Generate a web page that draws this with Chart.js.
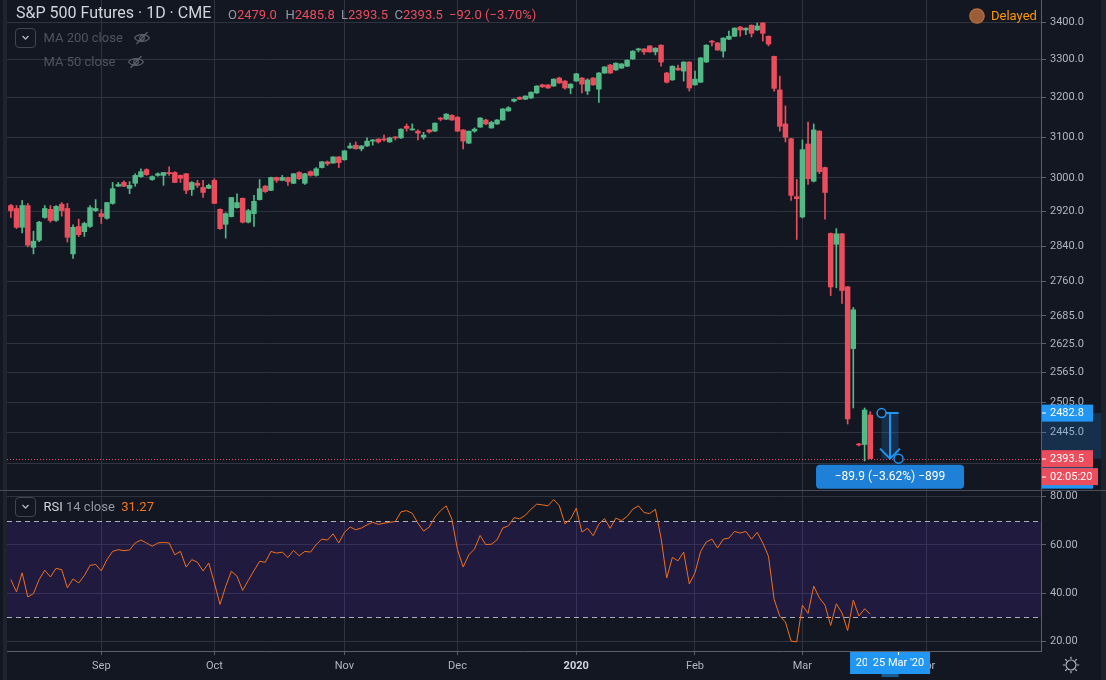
<!DOCTYPE html>
<html>
<head>
<meta charset="utf-8">
<title>S&amp;P 500 Futures · 1D · CME</title>
<script src="https://cdn.jsdelivr.net/npm/chart.js@4.4.1/dist/chart.umd.min.js"></script>
<style>
  html, body { margin: 0; padding: 0; background: #131722; }
  body { position: relative; width: 1106px; height: 680px; overflow: hidden;
         font-family: Roboto, "Noto Sans", sans-serif; color: #d1d4dc; }
  canvas { position: absolute; left: 0; }
  #priceChart { top: 0; }
  #rsiChart { top: 481px; }
  .txt { position: absolute; white-space: nowrap; line-height: 20px; height: 20px; }
  .k { color: #9598a1; }
  .v { color: #eb4d5c; }
  .chev { position: absolute; left: 15px; width: 19px; height: 18px; border: 1px solid #434651; border-radius: 4px; }
  .chev svg { position: absolute; left: 4px; top: 4px; }
  .ico { position: absolute; }
  .sep { position: absolute; left: 0; width: 1106px; height: 1px; background: #4a4e59; }
</style>
</head>
<body>
<canvas id="priceChart" width="1106" height="491"></canvas>
<canvas id="rsiChart" width="1106" height="199"></canvas>

<div style="position:absolute;left:3px;top:0;width:4px;height:680px;background:#1f232e"></div>
<div style="position:absolute;left:1101px;top:0;width:5px;height:680px;background:#1e222d"></div>
<div class="sep" style="top:490px"></div>

<!-- legend, price pane -->
<div class="txt" style="left:16px;top:3px;font-size:16px;color:#d1d4dc">S&amp;P 500 Futures · 1D · CME</div>
<div class="txt" style="left:228px;top:5px;font-size:13px"><span class="k">O</span><span class="v">2479.0</span></div>
<div class="txt" style="left:285.5px;top:5px;font-size:13px"><span class="k">H</span><span class="v">2485.8</span></div>
<div class="txt" style="left:341px;top:5px;font-size:13px"><span class="k">L</span><span class="v">2393.5</span></div>
<div class="txt" style="left:394.5px;top:5px;font-size:13px"><span class="k">C</span><span class="v">2393.5</span></div>
<div class="txt" style="left:449px;top:5px;font-size:13px"><span class="v">−92.0 (−3.70%)</span></div>

<div class="chev" style="top:28px"><svg width="11" height="10" viewBox="0 0 11 10"><path d="M2.5 3 L5.5 6 L8.5 3" fill="none" stroke="#b2b5be" stroke-width="1.3"/></svg></div>
<div class="txt" style="left:43.5px;top:28px;font-size:13px;color:#50535e">MA 200 close</div>
<svg class="ico" style="left:133px;top:31px" width="18" height="14" viewBox="0 0 18 14"><path d="M1.5 7 C4.5 2.5 13.5 2.5 16.5 7 C13.5 11.5 4.5 11.5 1.5 7 Z" fill="none" stroke="#5d606b" stroke-width="1.2"/><circle cx="9" cy="7" r="2.3" fill="none" stroke="#5d606b" stroke-width="1.2"/><path d="M3.5 13 L14.5 1" stroke="#5d606b" stroke-width="1.2"/></svg>
<div class="txt" style="left:43.5px;top:52px;font-size:13px;color:#50535e">MA 50 close</div>
<svg class="ico" style="left:126.5px;top:55px" width="18" height="14" viewBox="0 0 18 14"><path d="M1.5 7 C4.5 2.5 13.5 2.5 16.5 7 C13.5 11.5 4.5 11.5 1.5 7 Z" fill="none" stroke="#5d606b" stroke-width="1.2"/><circle cx="9" cy="7" r="2.3" fill="none" stroke="#5d606b" stroke-width="1.2"/><path d="M3.5 13 L14.5 1" stroke="#5d606b" stroke-width="1.2"/></svg>

<svg class="ico" style="left:968px;top:7px" width="18" height="18" viewBox="0 0 18 18"><circle cx="9" cy="9" r="7.2" fill="#9a5d37" stroke="#b8703f" stroke-width="1.2"/></svg>
<div class="txt" style="left:991px;top:5.5px;font-size:13px;color:#ff9800">Delayed</div>

<!-- legend, RSI pane -->
<div class="chev" style="top:497px"><svg width="11" height="10" viewBox="0 0 11 10"><path d="M2.5 3 L5.5 6 L8.5 3" fill="none" stroke="#b2b5be" stroke-width="1.3"/></svg></div>
<div class="txt" style="left:43.5px;top:496.5px;font-size:13px"><span style="color:#d1d4dc">RSI</span> <span style="color:#9598a1">14 close</span>&nbsp; <span style="color:#f5761a">31.27</span></div>

<svg class="ico" style="left:1061px;top:655px" width="20" height="20" viewBox="0 0 20 20" fill="none" stroke="#b2b5be" stroke-width="1.2">
  <circle cx="10" cy="10" r="5"/>
  <path d="M10 4 V1.8 M10 16 V18.2 M4 10 H1.8 M16 10 H18.2 M14.24 5.76 L15.8 4.2 M5.76 14.24 L4.2 15.8 M5.76 5.76 L4.2 4.2 M14.24 14.24 L15.8 15.8"/>
</svg>

<script>
// daily candles, 9 Aug 2019 .. 18 Mar 2020 (index 0 .. 152)
const opens = [2934,2927,2883,2934,2837,2853,2906,2925,2899,2937,
  2927,2822,2885,2873,2885,2922,2915,2904,2939,2980,
  2989,2975,2987,3003,3020,2996,3006,3006,3013,3013,
  3006,3010,2972,2987,2977,2975,2994,2925,2890,2908,
  2929,2951,2895,2915,2948,2980,2970,3001,2994,3001,
  2987,3013,2987,3015,3006,3025,3039,3036,3051,3044,
  3073,3080,3071,3078,3090,3095,3095,3088,3100,3098,
  3127,3118,3115,3100,3118,3115,3148,3145,3155,3150,
  3118,3085,3115,3125,3143,3123,3133,3143,3166,3191,
  3201,3196,3199,3212,3233,3233,3230,3251,3243,3225,
  3243,3251,3217,3251,3222,3264,3285,3272,3277,3282,
  3301,3325,3328,3336,3320,3338,3264,3246,3277,3269,
  3293,3233,3240,3293,3349,3344,3322,3354,3362,3387,
  3379,3392,3379,3398,3362,3308,3220,3133,3096,2955,
  2907,3083,2992,3115,3025,2869,2844,2868,2748,2615,
  2421,2421,2479];
const highs = [2937,2934,2946,2939,2874,2897,2934,2934,2934,2941,
  2939,2889,2902,2895,2934,2948,2925,2941,2989,2989,
  2993,2991,3010,3022,3022,3005,3012,3013,3027,3015,
  3007,3011,2991,2994,2994,2985,2998,2926,2917,2953,
  2962,2952,2925,2958,2996,2982,3002,3002,3006,3002,
  3011,3015,3011,3017,3025,3040,3041,3051,3052,3067,
  3085,3088,3079,3098,3094,3096,3105,3100,3101,3121,
  3133,3133,3118,3112,3119,3136,3149,3159,3156,3152,
  3119,3115,3123,3149,3145,3140,3144,3172,3177,3197,
  3202,3205,3215,3231,3235,3234,3249,3253,3244,3236,
  3263,3252,3249,3252,3265,3281,3287,3291,3289,3299,
  3323,3330,3329,3337,3331,3339,3266,3283,3285,3294,
  3294,3269,3305,3339,3351,3345,3358,3376,3385,3389,
  3385,3393,3398,3399,3363,3309,3256,3179,3097,2996,
  3093,3138,3133,3116,3026,2870,2880,2869,2749,2703,
  2423,2493,2485.8];
const lows = [2906,2880,2870,2838,2822,2850,2904,2895,2897,2909,
  2849,2812,2862,2862,2883,2920,2892,2902,2937,2979,
  2979,2962,2980,3001,3006,2994,3004,2982,3006,2989,
  2989,2962,2958,2977,2953,2974,2939,2878,2858,2907,
  2928,2893,2893,2885,2947,2965,2969,2989,2993,2982,
  2986,2996,2984,3004,3004,3024,3030,3036,3025,3043,
  3072,3070,3066,3077,3080,3085,3090,3087,3093,3097,
  3115,3117,3093,3095,3110,3114,3141,3144,3142,3114,
  3071,3084,3112,3124,3131,3122,3132,3142,3165,3189,
  3195,3195,3198,3211,3226,3224,3229,3237,3222,3210,
  3242,3212,3208,3232,3188,3263,3263,3271,3276,3281,
  3300,3320,3313,3319,3312,3282,3238,3245,3271,3243,
  3217,3232,3239,3292,3336,3324,3306,3353,3361,3362,
  3366,3360,3378,3349,3336,3217,3115,3088,2946,2855,
  2905,2984,2990,3010,2902,2729,2746,2712,2461,2493,
  2418,2389,2393.5];
const closes = [2922,2883,2934,2842,2851,2895,2927,2899,2932,2922,
  2860,2883,2866,2892,2929,2927,2908,2941,2974,2984,
  2980,2982,3006,3015,3008,3003,3010,3013,3010,2989,
  2999,2970,2989,2982,2965,2982,2939,2880,2915,2953,
  2941,2895,2922,2944,2974,2967,3001,2994,3001,2991,
  3010,2998,3010,3006,3022,3039,3034,3051,3037,3066,
  3078,3071,3078,3090,3093,3088,3093,3098,3098,3120,
  3122,3120,3110,3105,3113,3135,3145,3158,3143,3115,
  3090,3115,3120,3148,3133,3137,3143,3171,3174,3196,
  3196,3204,3214,3230,3228,3225,3248,3238,3225,3235,
  3262,3235,3246,3233,3264,3280,3264,3290,3288,3298,
  3322,3328,3320,3320,3330,3293,3240,3282,3272,3293,
  3225,3248,3304,3338,3346,3325,3357,3362,3384,3379,
  3384,3370,3390,3370,3341,3224,3127,3100,2958,2950,
  3069,2998,3118,3015,2965,2748,2868,2740,2471,2698,
  2420,2489,2393.5];
const rsiValues = [45.6,40.5,48.4,38.4,39.8,45.6,49.5,46.7,50.3,49.7,
  42.2,45.9,44.2,47.3,51.5,51.9,49.2,53.9,57.3,58.0,
  57.6,57.9,60.8,62.0,60.8,59.4,60.8,61.0,60.8,55.9,
  57.3,50.8,53.9,52.8,49.2,52.5,44.2,35.3,42.8,49.1,
  47.0,41.1,45.3,49.3,53.2,52.8,57.3,56.6,57.0,54.8,
  57.7,55.5,57.3,57.0,60.1,62.4,62.0,64.6,60.8,65.2,
  67.4,66.3,67.0,68.3,69.4,68.5,69.0,69.4,69.7,73.7,
  74.2,73.1,69.0,65.7,67.4,71.5,74.2,76.2,70.7,58.0,
  50.8,55.9,58.3,63.9,60.1,60.3,62.1,67.0,67.9,71.3,
  70.8,72.3,74.8,76.9,76.6,76.2,78.8,76.3,68.7,70.7,
  75.2,65.3,66.9,63.8,68.6,70.9,66.9,71.1,70.1,71.8,
  74.8,76.2,73.4,73.0,74.8,62.8,46.3,54.8,53.4,57.0,
  43.8,48.4,57.3,61.2,62.4,58.7,62.4,62.8,65.6,64.9,
  65.6,62.4,65.2,60.8,55.3,37.4,30.5,28.0,20.1,19.8,
  35.0,31.6,42.9,38.0,35.0,26.6,35.6,31.8,24.5,37.1,
  30.5,33.5,31.27];

// time axis: bar index of the first session of each month
const monthTickIdx = [16, 36, 59, 79, 100, 121, 140, 162];
const monthTickLabels = ['Sep', 'Oct', 'Nov', 'Dec', '2020', 'Feb', 'Mar', 'Apr'];
const priceTicks = [2385, 2445, 2505, 2565, 2625, 2685, 2760, 2840, 2920, 3000, 3100, 3200, 3300, 3400];
const rsiTicks = [20, 40, 60, 80];
const rsiBands = [30, 70];

// measure tool (from 20 Mar to 25 Mar) and last price
const measureIdx = [154, 157];
const measurePrice = [2482.8, 2393.5];
const measureDates = ["20 Mar '20", "25 Mar '20"];
const measureText = '−89.9 (−3.62%) −899';
const lastPrice = 2393.5;
const countdown = '02:05:20';

const X_MIN = -0.68, X_MAX = 182.2;
const PRICE_MIN = 2332, PRICE_MAX = 3461.5;
const RSI_MIN = 16, RSI_MAX = 82.35;

const UP = '#53b987', DOWN = '#eb4d5c', BLUE = '#2196f3';
const GRID = '#2f3340', AXIS = '#5d606b', TXT = '#b2b5be';

Chart.defaults.font.family = 'Roboto, "Noto Sans", sans-serif';
Chart.defaults.animation = false;

const idx = closes.map((_, i) => i);
const candleColor = c => closes[c.dataIndex] >= opens[c.dataIndex] ? UP : DOWN;

function timeAxis(withLabels) {
  return {
    type: 'linear', min: X_MIN, max: X_MAX, offset: false,
    afterBuildTicks: s => { s.ticks = monthTickIdx.map(v => ({ value: v })); },
    afterFit: s => { s.height = withLabels ? 29 : 0; s.paddingLeft = 0; s.paddingRight = 0; },
    grid: { color: GRID, offset: false, drawTicks: withLabels, tickLength: 4, tickColor: AXIS },
    border: { display: withLabels, color: AXIS },
    ticks: {
      display: withLabels, autoSkip: false, maxRotation: 0, padding: 5,
      callback: v => monthTickLabels[monthTickIdx.indexOf(v)],
      color: c => (c.tick && c.tick.label === '2020') ? '#d1d4dc' : TXT,
      font: c => ({ size: 11, weight: (c.tick && c.tick.label === '2020') ? 'bold' : 'normal' })
    }
  };
}

function valueAxis(extra, tickValues, digits) {
  return Object.assign({
    position: 'right',
    afterBuildTicks: s => { s.ticks = tickValues.map(v => ({ value: v })); },
    afterFit: s => { s.width = 65; s.paddingTop = 0; s.paddingBottom = 0; },
    grid: { color: GRID, tickLength: 5, tickColor: AXIS },
    border: { color: AXIS },
    ticks: { autoSkip: false, padding: 4, color: TXT, font: { size: 11 }, callback: v => v.toFixed(digits) }
  }, extra);
}

function labelBox(ctx, x, yc, w, color, text) {
  ctx.fillStyle = color;
  ctx.fillRect(x + 1, yc - 8.5, w, 17);
  ctx.fillStyle = '#ffffff';
  ctx.fillRect(x + 1, Math.round(yc) - 0.5, 4, 1);
  ctx.textAlign = 'left';
  ctx.textBaseline = 'middle';
  ctx.font = '11px Roboto, "Noto Sans", sans-serif';
  ctx.fillText(text, x + 9, yc + 0.5);
}

const priceOverlay = {
  id: 'priceOverlay',
  afterDatasetsDraw(chart) {
    const { ctx, chartArea: a, scales: { x, y } } = chart;
    const yLast = Math.round(y.getPixelForValue(lastPrice)) + 0.5;
    ctx.save();
    ctx.strokeStyle = DOWN;
    ctx.lineWidth = 1;
    ctx.setLineDash([1, 2]);
    ctx.beginPath(); ctx.moveTo(a.left, yLast); ctx.lineTo(a.right, yLast); ctx.stroke();
    ctx.setLineDash([]);

    const x1 = x.getPixelForValue(measureIdx[0]), x2 = x.getPixelForValue(measureIdx[1]);
    const y1 = y.getPixelForValue(measurePrice[0]), y2 = y.getPixelForValue(measurePrice[1]);
    const xm = (x1 + x2) / 2;
    ctx.fillStyle = 'rgba(33,150,243,0.2)';
    ctx.fillRect(x1, y1, x2 - x1, y2 - y1);
    ctx.strokeStyle = BLUE;
    ctx.lineWidth = 2;
    ctx.beginPath();
    ctx.moveTo(x1 + 4, y1); ctx.lineTo(x2, y1);
    ctx.moveTo(xm, y1); ctx.lineTo(xm, y2);
    ctx.moveTo(xm - 10, y2 - 10); ctx.lineTo(xm, y2); ctx.lineTo(xm + 10, y2 - 10);
    ctx.stroke();
    ctx.lineWidth = 1.5;
    [[x1, y1], [x2, y2]].forEach(([cx, cy]) => {
      ctx.beginPath(); ctx.arc(cx, cy, 4.5, 0, Math.PI * 2);
      ctx.fillStyle = '#131722'; ctx.fill(); ctx.stroke();
    });

    const bw = 148, bh = 24, bx = xm - bw / 2, by = y2 + 6;
    ctx.fillStyle = '#1f80d8';
    ctx.beginPath();
    if (ctx.roundRect) ctx.roundRect(bx, by, bw, bh, 4); else ctx.rect(bx, by, bw, bh);
    ctx.fill();
    ctx.fillStyle = '#ffffff';
    ctx.font = '12px Roboto, "Noto Sans", sans-serif';
    ctx.textAlign = 'center';
    ctx.textBaseline = 'middle';
    ctx.fillText(measureText, xm, by + bh / 2 + 0.5);
    ctx.restore();
  },
  afterDraw(chart) {
    const { ctx, chartArea: a, scales: { y } } = chart;
    const y1 = y.getPixelForValue(measurePrice[0]), y2 = y.getPixelForValue(measurePrice[1]);
    ctx.save();
    ctx.fillStyle = 'rgba(33,150,243,0.2)';
    ctx.fillRect(a.right + 1, y1, chart.width - a.right - 6, y2 - y1);
    ctx.fillStyle = BLUE;
    ctx.fillRect(a.right + 1, y2 + 9, 51, 21);
    labelBox(ctx, a.right, y1, 51, BLUE, measurePrice[0].toFixed(1));
    labelBox(ctx, a.right, y2, 51, DOWN, lastPrice.toFixed(1));
    labelBox(ctx, a.right, y2 + 18, 56, DOWN, countdown);
    ctx.restore();
  }
};

new Chart(document.getElementById('priceChart'), {
  type: 'bar',
  data: {
    datasets: [
      { label: 'body', data: idx.map(i => ({ x: i, y: [opens[i], closes[i]] })),
        backgroundColor: candleColor, barThickness: 4.8, minBarLength: 1, grouped: false, order: 0 },
      { label: 'wick', data: idx.map(i => ({ x: i, y: [lows[i], highs[i]] })),
        backgroundColor: candleColor, barThickness: 1, grouped: false, order: 1 }
    ]
  },
  options: {
    responsive: false,
    events: [],
    layout: { padding: { left: 7, top: 0, right: 0, bottom: 0 } },
    plugins: { legend: { display: false }, tooltip: { enabled: false } },
    scales: {
      x: timeAxis(false),
      y: valueAxis({ type: 'logarithmic', min: PRICE_MIN, max: PRICE_MAX }, priceTicks, 1)
    }
  },
  plugins: [priceOverlay]
});

const rsiOverlay = {
  id: 'rsiOverlay',
  beforeDatasetsDraw(chart) {
    const { ctx, chartArea: a, scales: { y } } = chart;
    const yHi = Math.round(y.getPixelForValue(rsiBands[1])) + 0.5;
    const yLo = Math.round(y.getPixelForValue(rsiBands[0])) + 0.5;
    ctx.save();
    ctx.fillStyle = 'rgba(100,40,200,0.17)';
    ctx.fillRect(a.left, yHi, a.right - a.left, yLo - yHi);
    ctx.strokeStyle = 'rgba(209,212,220,0.8)';
    ctx.lineWidth = 1;
    ctx.setLineDash([5, 4]);
    ctx.beginPath();
    ctx.moveTo(a.left, yHi); ctx.lineTo(a.right, yHi);
    ctx.moveTo(a.left, yLo); ctx.lineTo(a.right, yLo);
    ctx.stroke();
    ctx.restore();
  },
  afterDraw(chart) {
    const { ctx, chartArea: a, scales: { x } } = chart;
    const top = a.bottom + 1;
    const xs = measureIdx.map(v => x.getPixelForValue(v));
    ctx.save();
    ctx.fillStyle = 'rgba(33,150,243,0.55)';
    ctx.fillRect(xs[0], top + 22, xs[1] - xs[0], 3);
    ctx.font = '11px Roboto, "Noto Sans", sans-serif';
    ctx.textAlign = 'center';
    ctx.textBaseline = 'middle';
    xs.forEach((cx, k) => {
      ctx.fillStyle = BLUE;
      ctx.fillRect(cx - 31.5, top, 63, 22);
      ctx.fillStyle = '#ffffff';
      ctx.fillText(measureDates[k], cx, top + 11.5);
    });
    ctx.fillRect(xs[1] - 0.5, top, 1, 3);
    ctx.restore();
  }
};

new Chart(document.getElementById('rsiChart'), {
  type: 'line',
  data: {
    datasets: [{
      label: 'RSI', data: idx.map(i => ({ x: i, y: rsiValues[i] })),
      borderColor: '#f0701a', borderWidth: 1, pointRadius: 0, tension: 0
    }]
  },
  options: {
    responsive: false,
    events: [],
    layout: { padding: { left: 7, top: 10, right: 0, bottom: 0 } },
    plugins: { legend: { display: false }, tooltip: { enabled: false } },
    scales: {
      x: timeAxis(true),
      y: valueAxis({ type: 'linear', min: RSI_MIN, max: RSI_MAX }, rsiTicks, 2)
    }
  },
  plugins: [rsiOverlay]
});
</script>
</body>
</html>
